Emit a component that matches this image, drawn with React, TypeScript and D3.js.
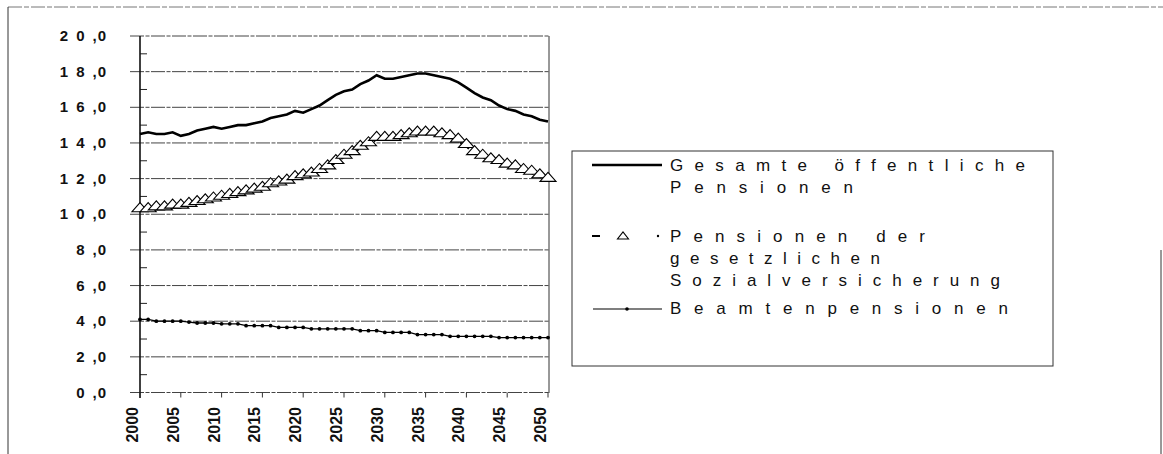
import React from 'react';
import * as d3 from 'd3';

const years = d3.range(2000, 2051);
const xTickLabels = ['2000', '2005', '2010', '2015', '2020', '2025', '2030', '2035', '2040', '2045', '2050'];
const yTickValues = [0, 2, 4, 6, 8, 10, 12, 14, 16, 18, 20];

// Gesamte öffentliche Pensionen
const gesamt = [
  14.5, 14.6, 14.5, 14.5, 14.6, 14.4, 14.5, 14.7, 14.8, 14.9,
  14.8, 14.9, 15.0, 15.0, 15.1, 15.2, 15.4, 15.5, 15.6, 15.8,
  15.7, 15.9, 16.1, 16.4, 16.7, 16.9, 17.0, 17.3, 17.5, 17.8,
  17.6, 17.6, 17.7, 17.8, 17.9, 17.9, 17.8, 17.7, 17.6, 17.4,
  17.1, 16.8, 16.55, 16.4, 16.1, 15.9, 15.8, 15.6, 15.5, 15.3,
  15.2,
];
// Pensionen der gesetzlichen Sozialversicherung
const sozial = [
  10.2, 10.2, 10.3, 10.3, 10.4, 10.4, 10.5, 10.6, 10.7, 10.8,
  10.9, 11.0, 11.1, 11.2, 11.3, 11.4, 11.6, 11.7, 11.8, 12.0,
  12.1, 12.2, 12.4, 12.6, 12.9, 13.2, 13.4, 13.7, 13.9, 14.2,
  14.2, 14.2, 14.3, 14.4, 14.5, 14.5, 14.5, 14.4, 14.3, 14.1,
  13.8, 13.4, 13.2, 13.0, 12.9, 12.7, 12.6, 12.4, 12.3, 12.1,
  11.9,
];
// Beamtenpensionen
const beamten = [
  4.1, 4.1, 4.0, 4.0, 4.0, 4.0, 3.95, 3.9, 3.9, 3.9,
  3.85, 3.85, 3.85, 3.75, 3.75, 3.75, 3.75, 3.65, 3.65, 3.65,
  3.65, 3.57, 3.57, 3.57, 3.57, 3.57, 3.57, 3.47, 3.47, 3.47,
  3.37, 3.37, 3.37, 3.37, 3.25, 3.25, 3.25, 3.25, 3.15, 3.15,
  3.15, 3.15, 3.15, 3.15, 3.08, 3.08, 3.08, 3.08, 3.08, 3.08,
  3.08,
];

const legendLines = [
  ['Gesamte öffentliche', 'Pensionen'],
  ['Pensionen der', 'gesetzlichen', 'Sozialversicherung'],
  ['Beamtenpensionen'],
];

const font = 'Liberation Sans, Arial, sans-serif';

const App = () => {
  const width = 1163;
  const height = 454;
  const x = d3.scaleLinear().domain([2000, 2050]).range([140, 548]);
  const y = d3.scaleLinear().domain([0, 20]).range([392.5, 36]);
  const line = d3
    .line<number>()
    .x((d, i) => x(years[i]))
    .y((d) => y(d));

  const minorTicks = d3.range(1, 20, 2);

  // legend text rows: baseline y and target span
  const legendRows = [
    { t: legendLines[0][0], y: 171, w: 355 },
    { t: legendLines[0][1], y: 193, w: 183 },
    { t: legendLines[1][0], y: 242, w: 255 },
    { t: legendLines[1][1], y: 264, w: 210 },
    { t: legendLines[1][2], y: 286, w: 330 },
    { t: legendLines[2][0], y: 314, w: 338 },
  ];

  const tri = (cx: number, cy: number, w: number, h: number) =>
    `M${cx - w / 2},${cy} L${cx + w / 2},${cy} L${cx},${cy - h} Z`;

  return (
    <svg
      width={width}
      height={height}
      style={{ position: 'absolute', left: 0, top: 0, background: '#fff' }}
    >
      {/* outer frame */}
      <line x1={8} x2={1163} y1={7} y2={7} stroke="#777" strokeDasharray="14 2 5 2" />
      <line x1={8} x2={8} y1={7} y2={454} stroke="#333" />
      <line x1={1161} x2={1161} y1={250} y2={454} stroke="#333" />

      {/* gridlines */}
      {yTickValues.map((v) => (
        <line
          key={`g${v}`}
          x1={130}
          x2={549}
          y1={y(v)}
          y2={y(v)}
          stroke="#444"
          strokeWidth={1}
          strokeDasharray="14 1.5 4 1.5"
        />
      ))}
      {minorTicks.map((v) => (
        <line key={`m${v}`} x1={140} x2={147} y1={y(v)} y2={y(v)} stroke="#222" />
      ))}
      {/* axes */}
      <line x1={140} x2={140} y1={36} y2={398} stroke="#111" strokeWidth={1.6} />
      <line x1={549} x2={549} y1={36} y2={393} stroke="#333" strokeWidth={1} />
      {xTickLabels.map((lab) => (
        <line
          key={`xt${lab}`}
          x1={x(+lab)}
          x2={x(+lab)}
          y1={y(0)}
          y2={y(0) + 5}
          stroke="#333"
        />
      ))}

      {/* y labels: "2 0 ,0" style */}
      {yTickValues.map((v) => (
        <text
          key={`yl${v}`}
          x={107}
          y={y(v) + 5}
          textAnchor="end"
          fontFamily={font}
          fontWeight="bold"
          fontSize={15}
          fill="#111"
        >
          <tspan letterSpacing={8}>{String(Math.trunc(v))}</tspan>
          <tspan letterSpacing={1}>{',' + v.toFixed(1).split('.')[1]}</tspan>
        </text>
      ))}
      {/* x labels */}
      {xTickLabels.map((lab) => (
        <text
          key={`xl${lab}`}
          transform={`translate(${x(+lab) - 2},${407}) rotate(-90)`}
          textAnchor="end"
          fontFamily={font}
          fontWeight="bold"
          fontSize={16}
          fill="#111"
        >
          {lab}
        </text>
      ))}

      {/* series */}
      <path d={line(gesamt) || undefined} fill="none" stroke="#000" strokeWidth={2.6} />
      <path
        d={line(sozial) || undefined}
        fill="none"
        stroke="#000"
        strokeWidth={2}
        strokeDasharray="6 3 2 3"
      />
      {sozial.map((v, i) => (
        <path
          key={`t${i}`}
          d={tri(x(years[i]), y(v) + 1, 16, 9)}
          fill="#fff"
          stroke="#000"
          strokeWidth={1.1}
        />
      ))}
      <path d={line(beamten) || undefined} fill="none" stroke="#000" strokeWidth={1.3} />
      {beamten.map((v, i) => (
        <circle key={`b${i}`} cx={x(years[i])} cy={y(v)} r={1.9} fill="#000" />
      ))}

      {/* legend */}
      <rect x={572} y={151} width={481} height={215} fill="#fff" stroke="#333" strokeWidth={1} />
      <line x1={592} x2={662} y1={165} y2={165} stroke="#000" strokeWidth={2.6} />
      <line x1={592} x2={600} y1={236} y2={236} stroke="#000" strokeWidth={2} />
      <path d={tri(623, 239, 11, 7)} fill="#fff" stroke="#000" strokeWidth={1.1} />
      <circle cx={658} cy={236} r={1.2} fill="#000" />
      <line x1={593} x2={662} y1={309} y2={309} stroke="#000" strokeWidth={1.2} />
      <circle cx={627} cy={309} r={1.8} fill="#000" />
      {legendRows.map((r) => (
        <text
          key={r.t}
          x={670}
          y={r.y}
          fontFamily={font}
          fontSize={17}
          textLength={r.w}
          lengthAdjust="spacing"
          fill="#111"
        >
          {r.t}
        </text>
      ))}
    </svg>
  );
};

export default App;
